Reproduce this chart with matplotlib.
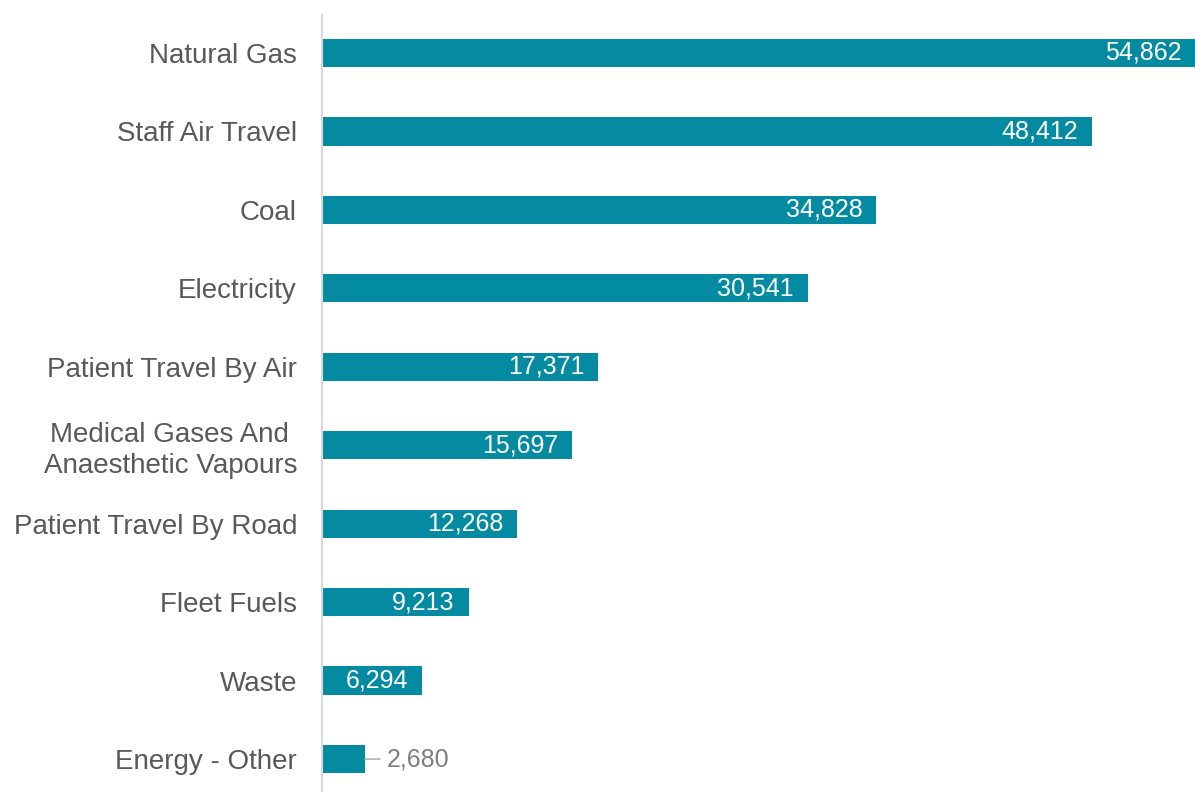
import matplotlib.pyplot as plt

plt.rcParams['font.family'] = ['Liberation Sans', 'DejaVu Sans']

categories = ["Natural Gas", "Staff Air Travel", "Coal", "Electricity",
              "Patient Travel By Air", "Medical Gases And \nAnaesthetic Vapours",
              "Patient Travel By Road", "Fleet Fuels", "Waste", "Energy - Other"]
values = [54862, 48412, 34828, 30541, 17371, 15697, 12268, 9213, 6294, 2680]

bar_color = '#048BA1'

fig = plt.figure(figsize=(11.95, 7.92), dpi=100)
ax = fig.add_axes([322 / 1195, 0.0, 1 - 322 / 1195, 1 - 15 / 792])

ypos = list(range(len(categories)))[::-1]
ax.barh(ypos, values, height=0.36, color=bar_color)

ax.set_xlim(0, max(values))
ax.set_ylim(-0.42, 9.484)
ax.set_yticks(ypos)
ax.set_yticklabels(categories, fontsize=20, color='#595959', linespacing=1.25)
ax.tick_params(axis='y', length=0, pad=18)
ax.set_xticks([])

for s in ['top', 'right', 'bottom']:
    ax.spines[s].set_visible(False)
ax.spines['left'].set_color('#D9D9D9')
ax.spines['left'].set_linewidth(1.5)

for y, v in zip(ypos, values):
    txt = f"{v:,}"
    if v > 5000:
        ax.annotate(txt, (v, y), xytext=(-10, 0), textcoords='offset points',
                    ha='right', va='center', color='white', fontsize=18)
    else:
        ax.annotate(txt, (v, y), xytext=(16, 0), textcoords='offset points',
                    ha='left', va='center', color='#7F7F7F', fontsize=18)
        ax.annotate('', (v, y), xytext=(11, 0), textcoords='offset points',
                    arrowprops=dict(arrowstyle='-', color='#A6A6A6', lw=1,
                                    shrinkA=0, shrinkB=0))

fig.savefig('out.png', dpi=100)
